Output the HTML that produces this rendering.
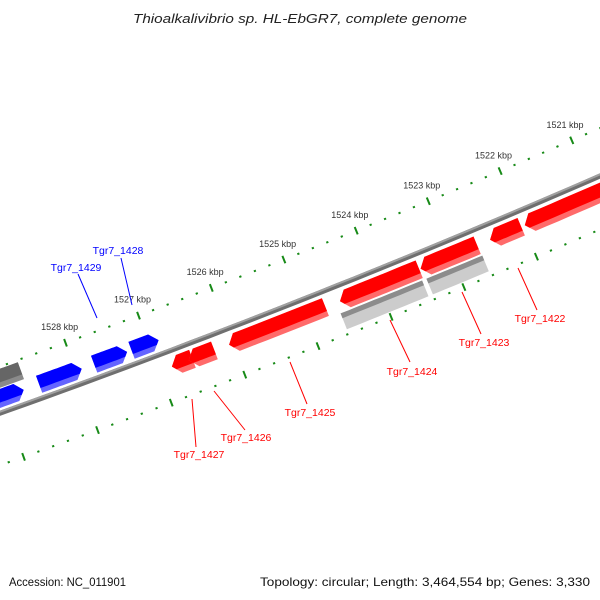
<!DOCTYPE html>
<html><head><meta charset="utf-8">
<style>
html,body{margin:0;padding:0;background:#fff;}
svg{display:block;}
text{font-family:"Liberation Sans","DejaVu Sans",sans-serif;}
</style></head>
<body>
<svg id="map" width="600" height="600" viewBox="0 0 600 600" xmlns="http://www.w3.org/2000/svg">
<rect width="600" height="600" fill="#fff"/>
<text x="133" y="23" font-size="13" font-style="italic" fill="#222" textLength="334" lengthAdjust="spacingAndGlyphs">Thioalkalivibrio sp. HL-EbGR7, complete genome</text>
<g id="rings"></g>
<g id="genes"></g>
<g id="labels"></g>
<text x="9" y="586" font-size="12" fill="#111" textLength="117" lengthAdjust="spacingAndGlyphs">Accession: NC_011901</text>
<text x="260" y="586" font-size="12" fill="#111" textLength="330" lengthAdjust="spacingAndGlyphs">Topology: circular; Length: 3,464,554 bp; Genes: 3,330</text>
</svg>
<script>
// data
const tickKbp = [1521,1522,1523,1524,1525,1526,1527,1528];
const tickLabels = ["1521 kbp","1522 kbp","1523 kbp","1524 kbp","1525 kbp","1526 kbp","1527 kbp","1528 kbp"];
const geneNames = ["gene-b1","gene-b2","Tgr7_1429","Tgr7_1428","gene-gray-outer","Tgr7_1427","Tgr7_1426","Tgr7_1425","Tgr7_1424","Tgr7_1423","gene-r6","Tgr7_1422","gene-gray-lower-1","gene-gray-lower-2"];
const geneHi = [1529.2,1528.50,1527.75,1527.24,1529.6,1526.83,1526.60,1526.05,1524.53,1523.42,1522.46,1521.98,1524.58,1523.40];
const geneLo = [1528.71,1527.92,1527.30,1526.87,1528.66,1526.55,1526.25,1524.73,1523.44,1522.64,1522.03,1520.3,1523.46,1522.63];
const geneLane = ["blue","blue","blue","blue","grayout","red","red","red","red","red","red","red","graylow","graylow"];
const geneStrand = [1,1,1,1,0,-1,-1,-1,-1,-1,-1,-1,0,0];

// geometry (circle mapping)
const R_UP=9500, ANX=318, ANY=240;
const NX=-0.371, NY=-0.928;
const CX=ANX+R_UP*NX, CY=ANY+R_UP*NY;
const TH0=Math.atan2(ANY-CY, ANX-CX);
const DTH=77.9/R_UP;
function P(k,r){const th=TH0+(k-1524.5)*DTH;return [CX+r*Math.cos(th), CY+r*Math.sin(th)];}
const NS="http://www.w3.org/2000/svg";
function mk(tag,attrs,parent){const e=document.createElementNS(NS,tag);for(const a in attrs)e.setAttribute(a,attrs[a]);parent.appendChild(e);return e;}
const lanes={blue:[9521,9539,"#0000ff","#6464ff",0.72],grayout:[9502,9520,"#666666","#8a8a8a",0.72],red:[9550,9569,"#ff0000","#ff6a6a",0.72],graylow:[9571,9588,"#8c8c8c","#cccccc",0.3]};
const rings=document.getElementById('rings');
const genesG=document.getElementById('genes');
const labelsG=document.getElementById('labels');

function arcPts(r,k0,k1){let s=[];for(let i=0;i<=40;i++){const p=P(k0+(k1-k0)*i/40,r);s.push(p[0].toFixed(1)+","+p[1].toFixed(1));}return s.join(" ");}
let bb=mk('polyline',{points:arcPts(9544,1520,1530),fill:'none',stroke:'#6f6f6f','stroke-width':5},rings);


let bb2=mk('polyline',{points:arcPts(9542.5,1520,1530),fill:'none',stroke:'#a0a0a0','stroke-width':2},rings);



[R_UP,9593].forEach((r,ri)=>{
  for(let i=0;i<=50;i++){
    const k=1520+i*0.2;
    const major=Math.abs(k-Math.round(k))<1e-6;
    let a,b;
    if(major){a=P(k,r-4);b=P(k,r+4);}else{a=P(k,r-1);b=P(k,r+1);}
    const t=mk('line',{x1:a[0],y1:a[1],x2:b[0],y2:b[1],stroke:'#178a17','stroke-width':major?2:2.2},rings);
    
    
  }
});
tickKbp.forEach((k,i)=>{
  const p=P(k,R_UP-17);
  const t=mk('text',{x:p[0],y:p[1]+3,'text-anchor':'middle','font-size':9,fill:'#333'},rings);
  t.textContent=tickLabels[i];
  
  
});

function shape(hi,lo,r1,r2,strand,rTop){
  const h=r2-r1, rm=(r1+r2)/2, AL=0.1;
  let pts=[];
  function edgeR(r){return Math.abs(r-rm)/(h/2);}
  if(strand===1){
    const be=Math.min(hi,lo+AL);
    pts.push([hi,r1],[be,r1],[lo,rm]);
    if(rTop<r2){const f=edgeR(rTop);pts.push([lo+(be-lo)*f,rTop]);}else pts.push([be,r2]);
    pts.push([hi,Math.min(rTop,r2)]);
  }else if(strand===-1){
    const be=Math.max(lo,hi-AL);
    pts.push([lo,r1],[be,r1],[hi,rm]);
    if(rTop<r2){const f=edgeR(rTop);pts.push([hi-(hi-be)*f,rTop]);}else pts.push([be,r2]);
    pts.push([lo,Math.min(rTop,r2)]);
  }else{
    pts.push([hi,r1],[lo,r1],[lo,rTop],[hi,rTop]);
  }
  let out=[];
  for(let i=0;i<pts.length;i++){
    const a=pts[i],b=pts[(i+1)%pts.length];
    const n=Math.abs(a[0]-b[0])>0.3?10:1;
    for(let j=0;j<n;j++){const k=a[0]+(b[0]-a[0])*j/n,r=a[1]+(b[1]-a[1])*j/n;const p=P(k,r);out.push(p[0].toFixed(1)+","+p[1].toFixed(1));}
  }
  return out.join(" ");
}
geneHi.forEach((hi,i)=>{
  const L=lanes[geneLane[i]];
  const g=mk('g',{},genesG);
  
  
  const light=mk('polygon',{points:shape(hi,geneLo[i],L[0],L[1],geneStrand[i],L[1]),fill:L[3]},g);
  
  
  const dark=mk('polygon',{points:shape(hi,geneLo[i],L[0],L[1],geneStrand[i],L[0]+(L[1]-L[0])*L[4]),fill:L[2]},g);
  
  
});

const labelText=["Tgr7_1429","Tgr7_1428","Tgr7_1427","Tgr7_1426","Tgr7_1425","Tgr7_1424","Tgr7_1423","Tgr7_1422"];
const labelColor=["#0000ff","#0000ff","#ff0000","#ff0000","#ff0000","#ff0000","#ff0000","#ff0000"];
const labelPos=[[76,271],[118,254],[199,458],[246,441],[310,416],[412,375],[484,346],[540,322]];
const leader=[[78,274,97,318],[121,258,132,305],[192,399,196,447],[214,391,245,430],[290,362,307,404],[390,320,410,362],[462,292,481,334],[518,268,537,310]];
labelText.forEach((t,i)=>{
  const l=leader[i];
  const ln=mk('line',{x1:l[0],y1:l[1],x2:l[2],y2:l[3],stroke:labelColor[i],'stroke-width':1},labelsG);
  
  
  const tx=mk('text',{x:labelPos[i][0],y:labelPos[i][1],'text-anchor':'middle','font-size':10.5,fill:labelColor[i]},labelsG);
  tx.textContent=t;
  
  
});
</script>
</body></html>
